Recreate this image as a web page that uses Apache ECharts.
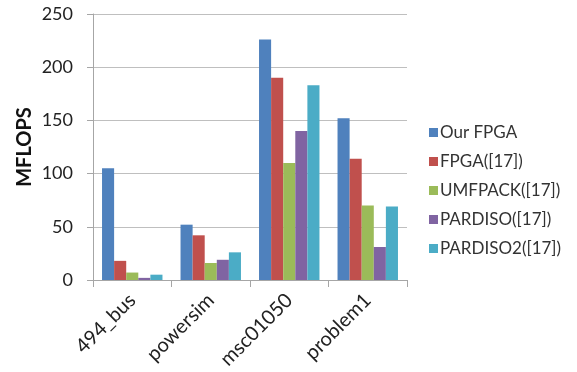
<!DOCTYPE html>
<html><head><meta charset="utf-8">
<script src="https://cdn.jsdelivr.net/npm/echarts@6/dist/echarts.min.js"></script>
<style>html,body{margin:0;padding:0;background:#fff}#c{width:577px;height:372px}</style>
</head><body><div id="c"></div>
<script>
const categories = ['494_bus', 'powersim', 'msc01050', 'problem1'];
const seriesNames = ['Our FPGA', 'FPGA([17])', 'UMFPACK([17])', 'PARDISO([17])', 'PARDISO2([17])'];
const ourFpga = [105, 52, 226, 152];
const fpga17 = [18, 42, 190, 114];
const umfpack17 = [7, 16, 110, 70];
const pardiso17 = [2, 19, 140, 31];
const pardiso2_17 = [5, 26, 183, 69];
const yTicks = [0, 50, 100, 150, 200, 250];
const colors = ['#4F81BD', '#C0504D', '#9BBB59', '#8064A2', '#4BACC6'];
const values = [ourFpga, fpga17, umfpack17, pardiso17, pardiso2_17];
const font = 'Lato, "Open Sans", sans-serif';

const chart = echarts.init(document.getElementById('c'));
chart.setOption({
  animation: false,
  color: colors,
  textStyle: {fontFamily: font},
  grid: {left: 93, right: 170, top: 14, bottom: 92, containLabel: false, outerBoundsMode: 'none'},
  legend: {
    orient: 'vertical', left: 424, top: 119, itemGap: 12,
    itemWidth: 9, itemHeight: 9, icon: 'rect',
    textStyle: {fontSize: 17, color: '#333', fontFamily: font, padding: [0,0,0,-3]},
    data: seriesNames
  },
  xAxis: {
    type: 'category', data: categories,
    axisLine: {lineStyle: {color: '#A6A6A6'}},
    axisTick: {show: true, length: 7, lineStyle: {color: '#A6A6A6'}},
    axisLabel: {rotate: 45, fontSize: 20, color: '#222', fontFamily: font, margin: 17}
  },
  yAxis: {
    type: 'value', min: yTicks[0], max: yTicks[yTicks.length-1], interval: 50,
    name: 'MFLOPS', nameLocation: 'middle', nameGap: 68, nameRotate: 90, nameMoveOverlap: false,
    nameTextStyle: {fontSize: 20, fontWeight: 'bold', color: '#111', fontFamily: font, verticalAlign: 'middle'},
    axisLine: {show: true, lineStyle: {color: '#A6A6A6'}},
    axisTick: {show: true, length: 6, lineStyle: {color: '#A6A6A6'}},
    axisLabel: {fontSize: 18, color: '#222', fontFamily: font, margin: 20},
    splitLine: {lineStyle: {color: '#BFBFBF'}}
  },
  series: seriesNames.map((n, i) => ({
    name: n, type: 'bar', data: values[i],
    barGap: '0%', barCategoryGap: '23%',
    itemStyle: {color: colors[i]}
  }))
});
</script></body></html>
